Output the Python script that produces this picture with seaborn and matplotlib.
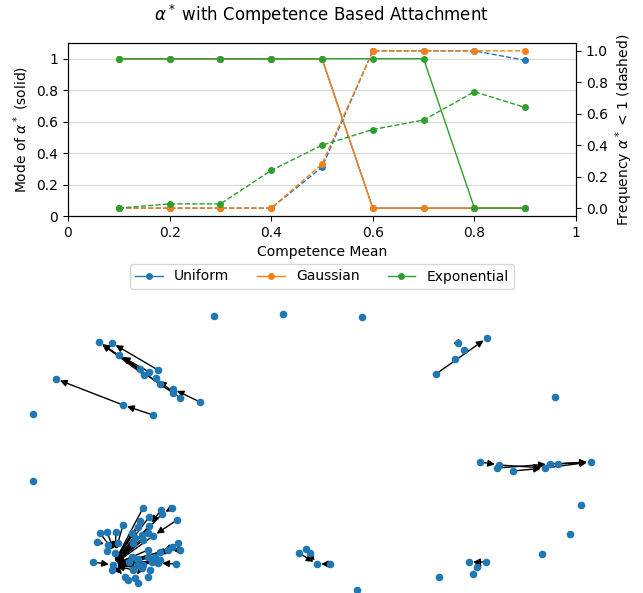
import matplotlib
matplotlib.use("Agg")
import matplotlib.pyplot as plt
from matplotlib.lines import Line2D
from matplotlib.ticker import FuncFormatter
import seaborn as sns
import pandas as pd

# competence sweep results
competence = [0.1, 0.2, 0.3, 0.4, 0.5, 0.6, 0.7, 0.8, 0.9]
mode_uniform = [1, 1, 1, 1, 1, 0.05, 0.05, 0.05, 0.05]
mode_gaussian = [1, 1, 1, 1, 1, 0.05, 0.05, 0.05, 0.05]
mode_exponential = [1, 1, 1, 1, 1, 1, 1, 0.05, 0.05]
freq_uniform = [0, 0, 0, 0, 0.26, 1.0, 1.0, 1.0, 0.94]
freq_gaussian = [0, 0, 0, 0, 0.28, 1.0, 1.0, 1.0, 1.0]
freq_exponential = [0, 0.027, 0.027, 0.24, 0.40, 0.50, 0.56, 0.74, 0.64]
dist_names = ['Uniform', 'Gaussian', 'Exponential']
dist_colors = ['#1f77b4', '#ff7f0e', '#2ca02c']

# network layout (node positions) and directed edges
node_x = [99, 112, 119, 158, 140, 149, 144, 156, 160, 173, 173, 180, 200, 56, 123, 153,
          33, 214, 283, 362, 33,
          458, 464, 455, 436, 487, 555,
          480, 499, 497, 513, 545, 550, 558, 591,
          581, 570, 542, 439, 357, 469, 486, 477, 473,
          299, 306, 310, 317, 330,
          143, 161, 172, 177, 162, 149, 140, 123, 138, 149,
          100, 107, 116, 132, 142, 148, 153, 135, 143,
          97, 108, 118, 133, 178, 172, 180, 107, 115, 148, 160, 168,
          132, 138, 148, 155, 160, 93, 113, 129, 137, 143, 152, 158, 176,
          112, 133, 142, 150, 125, 135, 148, 128, 138]
node_y = [342, 343, 355, 370, 369, 372, 375, 378, 384, 389, 393, 398, 402, 379, 405, 415,
          414, 316, 314, 317, 481,
          343, 350, 359, 374, 338, 397,
          462, 465, 468, 471, 468, 464, 464, 462,
          505, 534, 554, 577, 590, 562, 562, 567, 574,
          553, 549, 553, 564, 564,
          508, 510, 508, 520, 514, 517, 521, 525, 527, 526,
          533, 532, 532, 533, 535, 533, 536, 538, 540,
          542, 545, 543, 543, 543, 547, 550, 551, 553, 550, 552, 550,
          557, 559, 557, 557, 560, 562, 565, 562, 565, 565, 562, 563, 564,
          570, 570, 568, 570, 577, 578, 577, 580, 583]
edge_src = [3, 8, 6, 10, 4, 5, 12, 11, 15, 14,
            24, 21,
            27, 28, 29, 30, 31, 32, 33,
            41, 42,
            44, 45, 48,
            49, 53, 54, 55, 57, 58, 62, 63, 64, 65, 66, 67, 71, 77, 78, 79,
            80, 81, 82, 83, 84, 87, 88, 89, 90, 91, 94, 95,
            56, 59, 60, 61, 70, 85, 72, 73, 74, 92, 50, 51, 52, 68, 86, 89]
edge_dst = [1, 0, 0, 0, 2, 2, 9, 7, 14, 13,
            25, 22,
            28, 31, 32, 31, 34, 34, 34,
            40, 43,
            47, 47, 47,
            86, 86, 86, 86, 86, 86, 86, 86, 86, 86, 86, 86, 86, 86, 86, 86,
            86, 86, 86, 86, 86, 86, 86, 86, 86, 86, 86, 86,
            76, 76, 76, 76, 76, 86, 83, 78, 79, 91, 58, 53, 65, 69, 97, 98]

fig = plt.figure(figsize=(6.43, 5.93), dpi=100)
ax = fig.add_axes([68 / 643, 1 - 216 / 593, 508 / 643, 173 / 593])
ax2 = ax.twinx()

modes = [mode_uniform, mode_gaussian, mode_exponential]
freqs = [freq_uniform, freq_gaussian, freq_exponential]
for m, c in zip(modes, dist_colors):
    sns.lineplot(x=competence, y=m, ax=ax, color=c, marker='o', markersize=5,
                 markeredgewidth=0, lw=1)
for f, c in zip(freqs, dist_colors):
    sns.lineplot(x=competence, y=f, ax=ax2, color=c, marker='o', markersize=5,
                 markeredgewidth=0, lw=1, linestyle='--')

ax.set_xlim(0, 1)
ax.set_ylim(0, 1.1)
ax2.set_ylim(-0.05, 1.05)
ax.set_xticks([0, 0.2, 0.4, 0.6, 0.8, 1])
ax.set_yticks([0, 0.2, 0.4, 0.6, 0.8, 1])
ax.xaxis.set_major_formatter(FuncFormatter(lambda v, p: f'{v:g}'))
ax.yaxis.set_major_formatter(FuncFormatter(lambda v, p: f'{v:g}'))
ax.yaxis.grid(True, color='#d9d9d9')
ax.set_axisbelow(True)
ax.set_xlabel('Competence Mean')
ax.set_ylabel(r'Mode of $\alpha^*$ (solid)')
ax2.set_ylabel(r'Frequency $\alpha^*$ < 1 (dashed)')

handles = [Line2D([], [], color=c, marker='o', markersize=5, markeredgewidth=0, lw=1)
           for c in dist_colors]
fig.legend(handles, dist_names, loc='upper center', ncol=3,
           bbox_to_anchor=(322 / 643, 1 - 257 / 593))
fig.suptitle(r'$\alpha^*$ with Competence Based Attachment', y=1 - 3 / 593)

# network drawing
net = fig.add_axes([0, 0, 1, 293 / 593])
net.set_xlim(0, 643)
net.set_ylim(593, 300)
net.axis('off')
for s, d in zip(edge_src, edge_dst):
    net.annotate('', xy=(node_x[d], node_y[d]), xytext=(node_x[s], node_y[s]),
                 arrowprops=dict(arrowstyle='-|>', color='black', lw=1,
                                 mutation_scale=10, shrinkA=2, shrinkB=3),
                 zorder=1)
nodes = pd.DataFrame({'x': node_x, 'y': node_y})
sns.scatterplot(data=nodes, x='x', y='y', ax=net, color='#1f77b4', s=30,
                linewidth=0, zorder=2)
net.set_xlabel('')
net.set_ylabel('')

fig.savefig('out.png', dpi=100)
